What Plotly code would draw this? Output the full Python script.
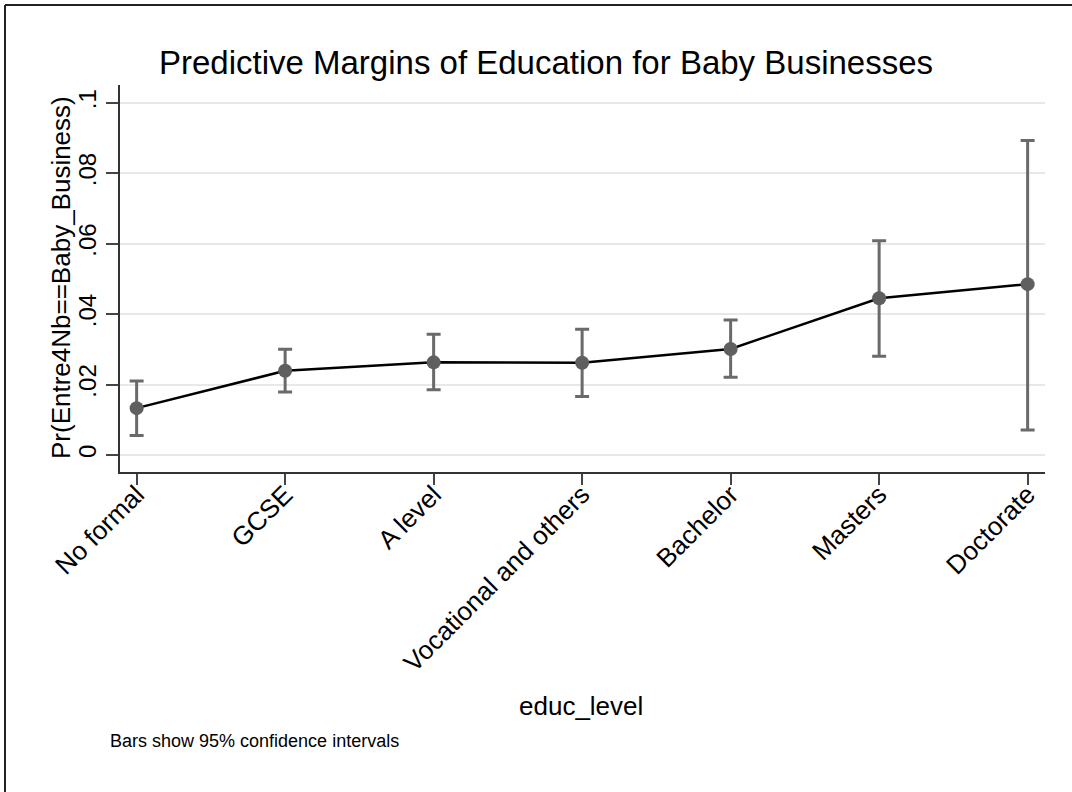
import plotly.graph_objects as go

# Predictive margins by education level, with 95% confidence intervals
categories = ["No formal", "GCSE", "A level", "Vocational and others",
              "Bachelor", "Masters", "Doctorate"]
margins = [0.0133, 0.0239, 0.0263, 0.0262, 0.0301, 0.0445, 0.0485]
ci_low = [0.0055, 0.0179, 0.0185, 0.0166, 0.0221, 0.0280, 0.0071]
ci_high = [0.0210, 0.0300, 0.0343, 0.0357, 0.0383, 0.0608, 0.0893]

y_tickvals = [0, 0.02, 0.04, 0.06, 0.08, 0.1]
y_ticktext = ["0", ".02", ".04", ".06", ".08", ".1"]

FONT = "Liberation Sans, Arial, sans-serif"
W, H = 1072, 792
L, R, T, B = 120, 27, 85, 320
pw, ph = W - L - R, H - T - B


def px_x(px):
    return (px - L) / pw


def px_y(py):
    return (H - B - py) / ph


err_plus = [h - m for h, m in zip(ci_high, margins)]
err_minus = [m - l for m, l in zip(margins, ci_low)]

fig = go.Figure()

# connecting line
fig.add_trace(go.Scatter(
    x=categories, y=margins, mode="lines",
    line=dict(color="black", width=2.5),
    hoverinfo="skip", showlegend=False,
))

# point estimates with confidence bars
fig.add_trace(go.Scatter(
    x=categories, y=margins, mode="markers",
    marker=dict(color="#5f5f5f", size=14),
    error_y=dict(type="data", symmetric=False, array=err_plus,
                 arrayminus=err_minus, color="#6a6a6a",
                 thickness=3, width=7),
    showlegend=False,
))

fig.update_layout(
    width=W, height=H,
    margin=dict(l=L, r=R, t=T, b=B),
    paper_bgcolor="white", plot_bgcolor="white",
    font=dict(family=FONT, color="black"),
    title=dict(text="Predictive Margins of Education for Baby Businesses",
               x=px_x(546), xref="paper", xanchor="center",
               y=1 - 62 / H, yanchor="middle",
               font=dict(size=33, color="black")),
    showlegend=False,
)

fig.update_xaxes(
    type="category", range=[-0.112, 6.117],
    showgrid=False, zeroline=False,
    showline=True, linecolor="#333333", linewidth=2,
    ticks="outside", ticklen=11, tickwidth=2, tickcolor="#444444",
    tickangle=-45, tickfont=dict(size=26, color="black"),
    ticklabelstandoff=-16,
)

fig.update_yaxes(
    range=[-0.00483, 0.10503],
    tickvals=y_tickvals, ticktext=y_ticktext,
    showgrid=True, gridcolor="#e8e8e8", gridwidth=2,
    zeroline=False,
    showline=True, linecolor="#333333", linewidth=2,
    ticks="outside", ticklen=12, tickwidth=2, tickcolor="#444444",
    tickangle=-90, tickfont=dict(size=24, color="black"),
)

# axis titles and note
fig.add_annotation(
    text="Pr(Entre4Nb==Baby_Business)", textangle=-90,
    xref="paper", yref="paper", x=px_x(61), y=px_y(278),
    xanchor="center", yanchor="middle", showarrow=False,
    font=dict(size=26, color="black"),
)
fig.add_annotation(
    text="educ_level",
    xref="paper", yref="paper", x=px_x(581), y=px_y(706),
    xanchor="center", yanchor="middle", showarrow=False,
    font=dict(size=26, color="black"),
)
fig.add_annotation(
    text="Bars show 95% confidence intervals",
    xref="paper", yref="paper", x=px_x(108), y=px_y(741),
    xanchor="left", yanchor="middle", showarrow=False,
    font=dict(size=18, color="black"),
)

# outer frame (left and top edges)
fig.add_shape(type="line", xref="paper", yref="paper",
              x0=px_x(5), x1=px_x(5), y0=px_y(5), y1=px_y(H + 5),
              line=dict(color="#222222", width=2))
fig.add_shape(type="line", xref="paper", yref="paper",
              x0=px_x(5), x1=px_x(W + 5), y0=px_y(5), y1=px_y(5),
              line=dict(color="#222222", width=2))

fig.write_html("out.html")
